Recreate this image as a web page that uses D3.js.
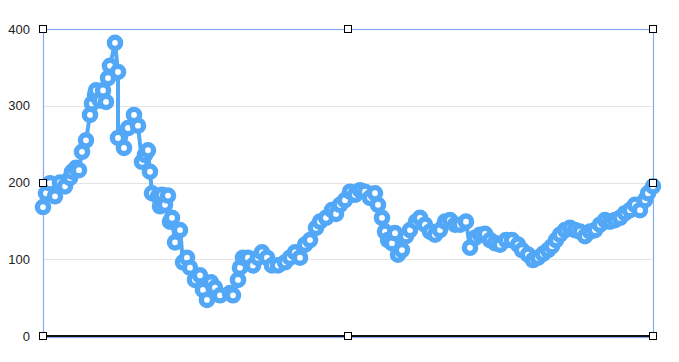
<!DOCTYPE html>
<html>
<head>
<meta charset="utf-8">
<script src="https://cdn.jsdelivr.net/npm/d3@7"></script>
<style>
  html, body { margin: 0; padding: 0; background: #fff; }
  svg { display: block; font-family: "Liberation Sans", Arial, sans-serif; }
</style>
</head>
<body>
<div id="chart"></div>
<script>
// --- chart data ---
const days = [0, 3, 7, 12, 17, 22, 27, 29, 33, 36, 39, 43, 47, 49, 52, 53, 57, 60, 63, 65, 67, 72, 75, 75,
  81, 85, 91, 95, 99, 102, 105, 107, 109, 115, 117, 119, 122, 125, 127, 129, 132, 137, 140, 144, 147, 152,
  157, 160, 164, 168, 172, 177, 187, 190, 195, 197, 200, 205, 210, 215, 219, 224, 229, 235, 242, 247, 252,
  257, 262, 267, 273, 277, 283, 289, 293, 297, 302, 307, 312, 317, 322, 327, 332, 335, 339, 342, 345, 349,
  352, 355, 359, 363, 367, 373, 377, 382, 387, 392, 397, 402, 407, 412, 417, 423, 427, 432, 437, 442, 447,
  452, 457, 463, 469, 475, 479, 485, 490, 495, 500, 505, 509, 513, 517, 522, 527, 532, 537, 542, 547, 552,
  557, 562, 567, 572, 577, 582, 587, 592, 597, 602, 605, 610];
const values = [168, 186, 199, 182, 200, 195, 206, 214, 219, 216, 240, 255, 288, 303, 314, 320, 307, 320,
  305, 336, 352, 382, 344, 258, 245, 271, 288, 274, 227, 236, 242, 214, 186, 182, 169, 184, 171, 183, 149,
  154, 122, 138, 96, 102, 89, 73, 79, 60, 47, 70, 63, 53, 56, 53, 73, 89, 102, 102, 92, 102, 109, 102, 92,
  92, 96, 102, 109, 102, 119, 125, 141, 149, 154, 164, 159, 171, 177, 188, 184, 190, 188, 180, 186, 171,
  154, 136, 125, 121, 134, 106, 112, 130, 138, 149, 154, 145, 136, 132, 138, 149, 151, 145, 145, 149, 115,
  128, 132, 133, 125, 121, 119, 125, 125, 119, 112, 106, 99, 102, 107, 112, 117, 125, 132, 138, 141, 138,
  136, 130, 136, 138, 145, 151, 149, 151, 154, 160, 164, 171, 164, 177, 186, 195];
const yTicks = [0, 100, 200, 300, 400];

// --- drawing ---
const width = 679, height = 362;
const margin = { top: 29, right: 26, bottom: 26, left: 43 };

const svg = d3.select('#chart').append('svg')
  .attr('width', width)
  .attr('height', height);

const x = d3.scaleLinear()
  .domain([0, 610])
  .range([margin.left, width - margin.right]);

const y = d3.scaleLinear()
  .domain([0, 400])
  .range([height - margin.bottom, margin.top]);

// grid lines
svg.append('g')
  .selectAll('line')
  .data(yTicks.filter(d => d > 0))
  .join('line')
  .attr('x1', margin.left)
  .attr('x2', width - margin.right)
  .attr('y1', d => Math.round(y(d)) + 0.5)
  .attr('y2', d => Math.round(y(d)) + 0.5)
  .attr('stroke', '#e4e4e4')
  .attr('stroke-width', 1);

// y axis labels
const yAxis = d3.axisLeft(y).tickValues(yTicks).tickSize(0).tickPadding(13);
svg.append('g')
  .attr('transform', `translate(${margin.left},0)`)
  .call(yAxis)
  .call(g => g.select('.domain').remove())
  .call(g => g.selectAll('text')
    .attr('font-size', 13)
    .attr('font-family', '"Liberation Sans", Arial, sans-serif')
    .attr('fill', '#222'));

// selection frame (light blue)
svg.append('rect')
  .attr('x', margin.left + 0.5)
  .attr('y', margin.top + 0.5)
  .attr('width', x.range()[1] - margin.left)
  .attr('height', y(0) - margin.top + 1)
  .attr('fill', 'none')
  .attr('stroke', '#86aaf6')
  .attr('stroke-width', 1.2);

// baseline
svg.append('line')
  .attr('x1', margin.left)
  .attr('x2', width - margin.right)
  .attr('y1', y(0))
  .attr('y2', y(0))
  .attr('stroke', '#111')
  .attr('stroke-width', 2);

// series line
const pts = days.map((d, i) => ({ t: d, v: values[i] }));
const blue = '#52a8f7';

svg.append('path')
  .datum(pts)
  .attr('fill', 'none')
  .attr('stroke', blue)
  .attr('stroke-width', 4)
  .attr('stroke-linejoin', 'round')
  .attr('d', d3.line().x(d => x(d.t)).y(d => y(d.v)));

svg.append('g')
  .selectAll('circle')
  .data(pts)
  .join('circle')
  .attr('cx', d => x(d.t))
  .attr('cy', d => y(d.v))
  .attr('r', 5.6)
  .attr('fill', '#fff')
  .attr('stroke', blue)
  .attr('stroke-width', 5.4);

// selection handles
const x0 = margin.left, x1 = x.range()[1];
const y0 = margin.top, y1 = y(0);
const handles = [
  [x0, y0], [(x0 + x1) / 2, y0], [x1, y0],
  [x0, (y0 + y1) / 2], [x1, (y0 + y1) / 2],
  [x0, y1], [(x0 + x1) / 2, y1], [x1, y1]
];
svg.append('g')
  .selectAll('rect')
  .data(handles)
  .join('rect')
  .attr('x', d => Math.round(d[0]) - 3.5)
  .attr('y', d => Math.round(d[1]) - 3.5)
  .attr('width', 7)
  .attr('height', 7)
  .attr('fill', '#fff')
  .attr('stroke', '#000')
  .attr('stroke-width', 1);
</script>
</body>
</html>
